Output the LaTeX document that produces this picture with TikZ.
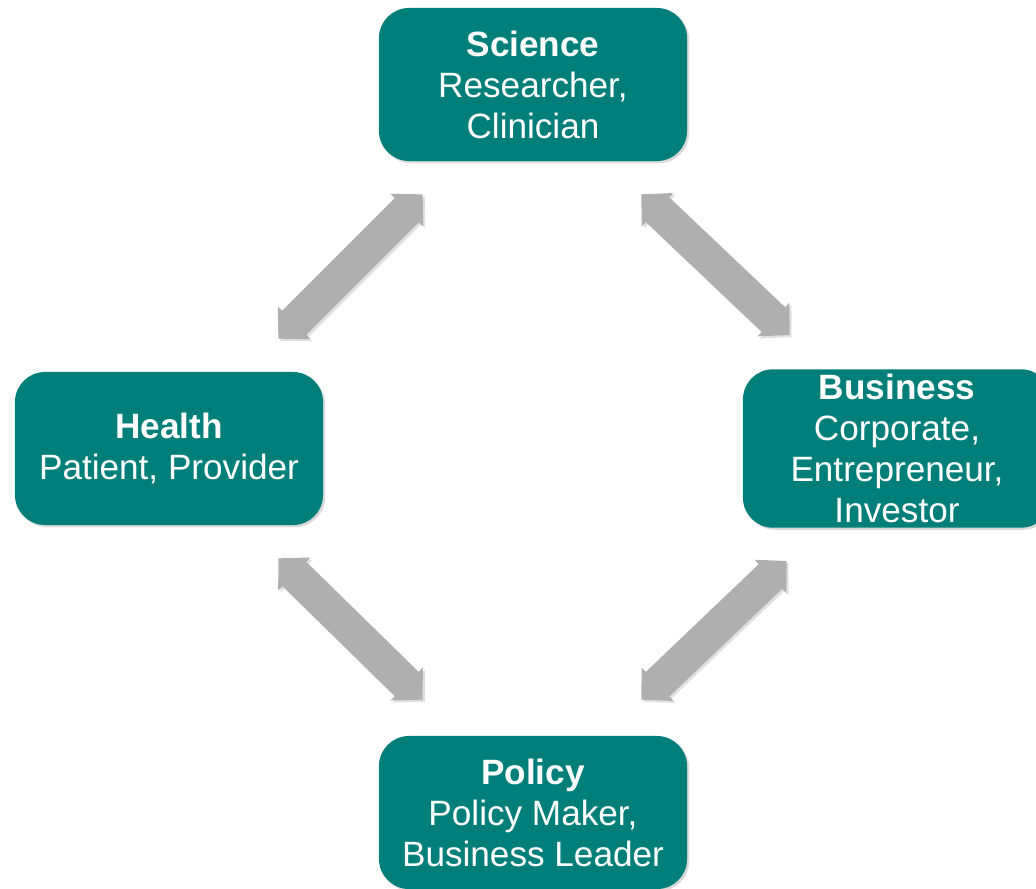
\documentclass[tikz,border=0pt]{standalone}
\usepackage{fontspec}
\setmainfont{Liberation Sans}
\usetikzlibrary{arrows.meta,shadows}
\definecolor{tealbox}{HTML}{007F7A}
\definecolor{arrowgrey}{HTML}{AFAFAF}
\begin{document}
\begin{tikzpicture}[x=0.025cm,y=-0.025cm]
    \tikzstyle{role}=[fill=tealbox, rounded corners=0.75cm, minimum width=7.7cm, minimum height=3.825cm, text=white, align=center, font=\fontsize{25}{29.2}\selectfont, drop shadow={shadow xshift=1.5pt, shadow yshift=-1.5pt, opacity=0.3}]
    \tikzstyle{link}=[arrowgrey, line width=0.85cm, {Triangle[length=0.56cm, width=1.12cm]}-{Triangle[length=0.56cm, width=1.12cm]}]
    \tikzstyle{linkshadow}=[link, black, opacity=0.12, transform canvas={xshift=1.5pt, yshift=-1.5pt}]
    \useasboundingbox (0,0) rectangle (1036,888);
    \node [role] (science) at (533,84.5) {\textbf{Science}\\Researcher,\\Clinician};
    \node [role] (health) at (169,448.5) {\textbf{Health}\\Patient, Provider};
    \node [role] (business) at (897,448.5) {\textbf{Business}\\Corporate,\\Entrepreneur,\\Investor};
    \node [role] (policy) at (533,812.5) {\textbf{Policy}\\Policy Maker,\\Business Leader};
    % shadows under the arrows
    \draw [linkshadow] ([shift={(-45,-33)}]health.north east) -- ([shift={(44,33)}]science.south west);
    \draw [linkshadow] ([shift={(-46,33)}]science.south east) -- ([shift={(47,-34)}]business.north west);
    \draw [linkshadow] ([shift={(-45,33)}]health.south east) -- ([shift={(44,-36)}]policy.north west);
    \draw [linkshadow] ([shift={(-46,-36)}]policy.north east) -- ([shift={(44,33)}]business.south west);
    % arrows
    \draw [link] ([shift={(-45,-33)}]health.north east) -- ([shift={(44,33)}]science.south west);
    \draw [link] ([shift={(-46,33)}]science.south east) -- ([shift={(47,-34)}]business.north west);
    \draw [link] ([shift={(-45,33)}]health.south east) -- ([shift={(44,-36)}]policy.north west);
    \draw [link] ([shift={(-46,-36)}]policy.north east) -- ([shift={(44,33)}]business.south west);
\end{tikzpicture}
\end{document}
